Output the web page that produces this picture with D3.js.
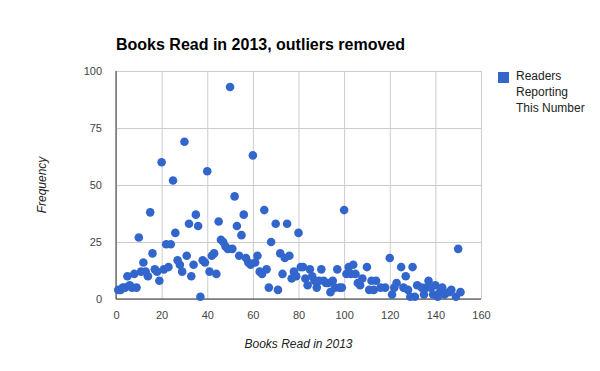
<!DOCTYPE html>
<html>
<head>
<meta charset="utf-8">
<script src="https://cdn.jsdelivr.net/npm/d3@7"></script>
<style>
  body { margin: 0; background: #fff; }
  text { font-family: Arial, "Liberation Sans", sans-serif; }
</style>
</head>
<body>
<div id="vis1"></div>
<script>
// books read (x) and how many readers reported that number (y)
const books = [1, 2, 3, 4, 5, 6, 7, 8, 9, 10, 11, 12, 13, 14, 15, 16, 17, 18, 19, 20,
               21, 22, 23, 24, 25, 26, 27, 28, 29, 30, 31, 32, 33, 34, 35, 36, 37, 38, 39, 40,
               41, 42, 43, 44, 45, 46, 47, 48, 49, 50, 51, 52, 53, 54, 55, 56, 57, 58, 59, 60,
               61, 62, 63, 64, 65, 66, 67, 68, 70, 71, 72, 73, 74, 75, 76, 77, 78, 79, 80,
               81, 82, 83, 84, 85, 86, 87, 88, 89, 90, 91, 92, 93, 94, 95, 96, 97, 98, 99, 100,
               101, 102, 103, 104, 105, 106, 107, 108, 110, 111, 112, 113, 114, 116, 118, 120,
               121, 122, 123, 125, 126, 127, 128, 129, 130, 131, 132, 134, 135, 136, 137, 138, 139, 140,
               141, 142, 143, 144, 146, 147, 149, 150, 151];
const readers = [4, 4, 5, 5, 10, 6, 5, 11, 5, 27, 12, 16, 12, 10, 38, 20, 13, 12, 8, 60,
                 13, 24, 14, 24, 52, 29, 17, 15, 12, 69, 19, 33, 10, 15, 37, 32, 1, 17, 16, 56,
                 12, 19, 20, 11, 34, 26, 25, 23, 22, 93, 22, 45, 32, 19, 28, 37, 18, 16, 15, 63,
                 16, 19, 12, 11, 39, 13, 5, 25, 33, 4, 20, 11, 18, 33, 19, 9, 12, 10, 29,
                 14, 14, 9, 6, 13, 10, 8, 5, 8, 13, 8, 7, 7, 3, 8, 5, 13, 5, 5, 39,
                 11, 14, 11, 15, 11, 7, 6, 9, 14, 4, 8, 4, 8, 5, 5, 18,
                 2, 5, 7, 14, 5, 10, 4, 1, 14, 1, 6, 5, 2, 5, 8, 5, 2, 6,
                 1, 3, 5, 2, 3, 4, 1, 22, 3];

const xTicks = [0, 20, 40, 60, 80, 100, 120, 140, 160];
const yTicks = [0, 25, 50, 75, 100];

const TITLE = "Books Read in 2013, outliers removed";
const X_TITLE = "Books Read in 2013";
const Y_TITLE = "Frequency";
const LEGEND = ["Readers", "Reporting", "This Number"];

const FRAME_WIDTH = 600;
const FRAME_HEIGHT = 371;
const MARGINS = {left: 116, right: 119, top: 71, bottom: 72};
const VIS_WIDTH = FRAME_WIDTH - MARGINS.left - MARGINS.right;
const VIS_HEIGHT = FRAME_HEIGHT - MARGINS.top - MARGINS.bottom;

const FRAME1 = d3.select("#vis1")
                  .append("svg")
                    .attr("width", FRAME_WIDTH)
                    .attr("height", FRAME_HEIGHT);

const X_SCALE = d3.scaleLinear().domain([0, 160]).range([0, VIS_WIDTH]);
const Y_SCALE = d3.scaleLinear().domain([0, 100]).range([VIS_HEIGHT, 0]);

const PLOT = FRAME1.append("g")
                    .attr("transform", "translate(" + MARGINS.left + "," + MARGINS.top + ")");

// gridlines
PLOT.append("g")
      .attr("transform", "translate(0," + VIS_HEIGHT + ")")
      .call(d3.axisBottom(X_SCALE).tickValues(xTicks).tickSize(-VIS_HEIGHT).tickFormat(""))
      .call(g => g.select(".domain").remove())
      .call(g => g.selectAll("line").attr("stroke", "#cccccc"));

PLOT.append("g")
      .call(d3.axisLeft(Y_SCALE).tickValues(yTicks).tickSize(-VIS_WIDTH).tickFormat(""))
      .call(g => g.select(".domain").remove())
      .call(g => g.selectAll("line").attr("stroke", "#cccccc"));

// tick labels
PLOT.append("g")
      .attr("transform", "translate(0," + VIS_HEIGHT + ")")
      .call(d3.axisBottom(X_SCALE).tickValues(xTicks).tickSize(0).tickPadding(12))
      .call(g => g.select(".domain").remove())
      .attr("color", "#444444")
      .selectAll("text")
        .attr("font-size", "11px")
        .attr("font-family", "Arial, 'Liberation Sans', sans-serif");

PLOT.append("g")
      .call(d3.axisLeft(Y_SCALE).tickValues(yTicks).tickSize(0).tickPadding(14))
      .call(g => g.select(".domain").remove())
      .attr("color", "#444444")
      .selectAll("text")
        .attr("font-size", "11px")
        .attr("font-family", "Arial, 'Liberation Sans', sans-serif");

// baselines
PLOT.append("line")
      .attr("x1", X_SCALE(0)).attr("x2", X_SCALE(160))
      .attr("y1", Y_SCALE(0)).attr("y2", Y_SCALE(0))
      .attr("stroke", "#333333");
PLOT.append("line")
      .attr("x1", X_SCALE(0)).attr("x2", X_SCALE(0))
      .attr("y1", Y_SCALE(0)).attr("y2", Y_SCALE(100))
      .attr("stroke", "#333333");

// points
PLOT.selectAll(".point")
      .data(books.map((b, i) => ({b: b, r: readers[i]})))
      .enter()
      .append("circle")
        .attr("class", "point")
        .attr("cx", d => X_SCALE(d.b))
        .attr("cy", d => Y_SCALE(d.r))
        .attr("r", 4.3)
        .attr("fill", "#3366cc");

// titles
FRAME1.append("text")
        .attr("x", 116)
        .attr("y", 50)
        .attr("font-size", "16px")
        .attr("font-weight", "bold")
        .attr("fill", "#000")
        .text(TITLE);

FRAME1.append("text")
        .attr("x", MARGINS.left + VIS_WIDTH / 2)
        .attr("y", 348)
        .attr("text-anchor", "middle")
        .attr("font-size", "12px")
        .attr("font-style", "italic")
        .attr("fill", "#222")
        .text(X_TITLE);

FRAME1.append("text")
        .attr("transform", "translate(46," + (MARGINS.top + VIS_HEIGHT / 2) + ") rotate(-90)")
        .attr("text-anchor", "middle")
        .attr("font-size", "12px")
        .attr("font-style", "italic")
        .attr("fill", "#222")
        .text(Y_TITLE);

// legend
FRAME1.append("rect")
        .attr("x", 498).attr("y", 72)
        .attr("width", 11).attr("height", 11)
        .attr("fill", "#3366cc");

FRAME1.selectAll(".legend")
        .data(LEGEND)
        .enter()
        .append("text")
          .attr("class", "legend")
          .attr("x", 516)
          .attr("y", (d, i) => 80 + i * 16)
          .attr("font-size", "12px")
          .attr("fill", "#222")
          .text(d => d);
</script>
</body>
</html>
